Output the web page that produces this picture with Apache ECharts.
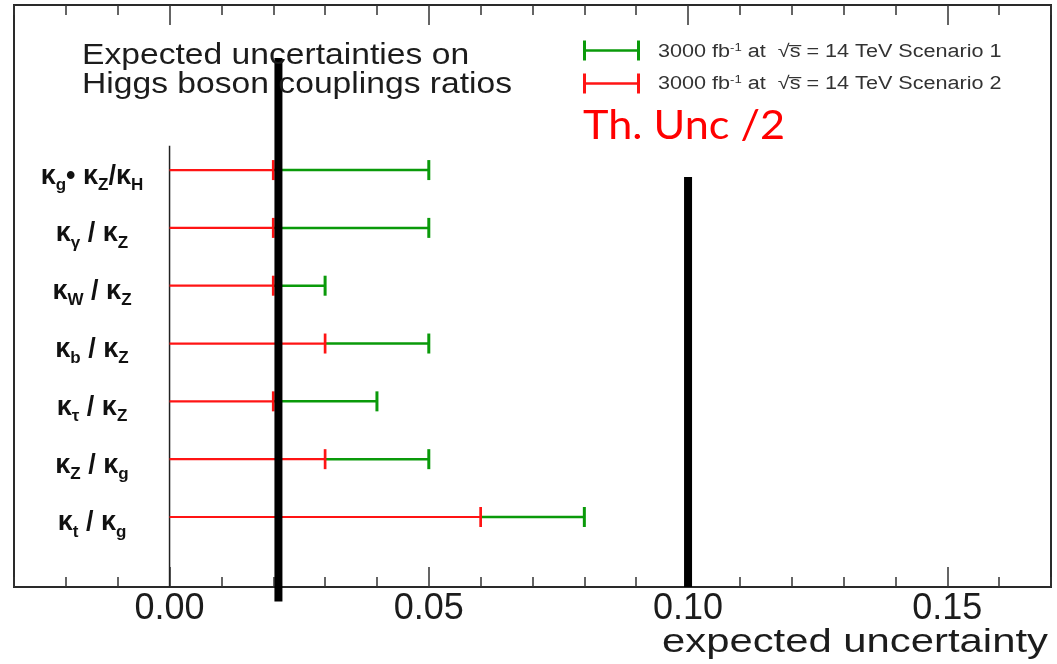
<!DOCTYPE html>
<html>
<head>
<meta charset="utf-8">
<script src="https://cdn.jsdelivr.net/npm/echarts@6/dist/echarts.min.js"></script>
<style>
  html, body { margin: 0; padding: 0; background: #ffffff; }
  #chart { width: 1057px; height: 664px; }
</style>
</head>
<body>
<div id="chart"></div>
<script>
// Coupling ratios, top to bottom (rich-text markup: k = kappa, s = subscript)
const couplings = [
  '{k|κ}{s|g}{k|• κ}{s|Z}{k|/κ}{s|H}',
  '{k|κ}{s|γ}{k| / κ}{s|Z}',
  '{k|κ}{s|W}{k| / κ}{s|Z}',
  '{k|κ}{s|b}{k| / κ}{s|Z}',
  '{k|κ}{s|τ}{k| / κ}{s|Z}',
  '{k|κ}{s|Z}{k| / κ}{s|g}',
  '{k|κ}{s|t}{k| / κ}{s|g}'
];

// Expected relative uncertainty, 3000 fb-1 at 14 TeV
const scenario1 = [0.05, 0.05, 0.03, 0.05, 0.04, 0.05, 0.08];
const scenario2 = [0.02, 0.02, 0.02, 0.03, 0.02, 0.03, 0.06];

// Axis ticks
const xMinorStep = 0.01;
const xMajorTicks = [0.00, 0.05, 0.10, 0.15];

// Theory-uncertainty (halved) reference levels
const thUncLevels = [0.021, 0.10];

const X_MIN = -0.03, X_MAX = 0.17;
const Y_MIN = -2.855, Y_MAX = 7.211;

const GREEN = '#0a9a0a';
const RED = '#ff1414';
const INK = '#1c1c1c';
const SANS = 'Liberation Sans, Arial, sans-serif';

const chart = echarts.init(document.getElementById('chart'), null, { renderer: 'canvas' });

// One horizontal error bar per row: from `start` to `end`, capped at `end`
function errorBars(name, starts, ends, color, width, z) {
  return {
    type: 'custom',
    name: name,
    encode: { x: [0, 1], y: 2 },
    data: ends.map((v, i) => [starts[i], v, i]),
    z: z,
    renderItem(params, api) {
      const row = api.value(2);
      const p0 = api.coord([api.value(0), row]);
      const p1 = api.coord([api.value(1), row]);
      return {
        type: 'group',
        children: [
          { type: 'line', shape: { x1: p0[0], y1: p0[1], x2: p1[0], y2: p1[1] },
            style: { stroke: color, lineWidth: width } },
          { type: 'line', shape: { x1: p1[0], y1: p1[1] - 10, x2: p1[0], y2: p1[1] + 10 },
            style: { stroke: color, lineWidth: width + 0.5 } }
        ]
      };
    }
  };
}

// Vertical extents (in row units) of the two reference bars
const thUncSpans = [[-1.94, 7.46], [0.12, Y_MAX]];

const axisBase = {
  type: 'value', min: X_MIN, max: X_MAX, gridIndex: 0,
  axisLine: { show: false, onZero: false }, splitLine: { show: false }
};
const tickStyle = { color: '#333', width: 1.5 };

const option = {
  animation: false,
  backgroundColor: '#ffffff',
  grid: {
    left: 14, right: 6, top: 5, bottom: 77,
    outerBoundsMode: 'none', containLabel: false,
    show: true, borderColor: '#2a2a2a', borderWidth: 2, backgroundColor: 'transparent'
  },
  xAxis: [
    Object.assign({}, axisBase, {
      position: 'bottom', interval: xMinorStep,
      axisTick: { inside: true, length: 10, lineStyle: tickStyle },
      axisLabel: { show: false }
    }),
    Object.assign({}, axisBase, {
      position: 'bottom',
      axisTick: { inside: true, length: 20, customValues: xMajorTicks, lineStyle: tickStyle },
      axisLabel: {
        customValues: xMajorTicks, formatter: v => v.toFixed(2),
        margin: 4, fontSize: 36, color: INK, fontFamily: SANS
      }
    }),
    Object.assign({}, axisBase, {
      position: 'top', interval: xMinorStep,
      axisTick: { inside: true, length: 10, lineStyle: tickStyle },
      axisLabel: { show: false }
    }),
    Object.assign({}, axisBase, {
      position: 'top',
      axisTick: { inside: true, length: 20, customValues: xMajorTicks, lineStyle: tickStyle },
      axisLabel: { show: false }
    })
  ],
  yAxis: {
    type: 'value', inverse: true, min: Y_MIN, max: Y_MAX,
    axisLine: { show: false, onZero: false }, axisTick: { show: false }, splitLine: { show: false },
    axisLabel: {
      customValues: couplings.map((c, i) => i),
      inside: true, margin: 78, align: 'center',
      formatter: v => couplings[Math.round(v)],
      rich: {
        k: { fontSize: 27, fontWeight: 'bold', color: '#111', fontFamily: SANS, padding: [12, 0, 0, 0] },
        s: { fontSize: 17, fontWeight: 'bold', color: '#111', fontFamily: SANS, padding: [30, 0, 0, 0] }
      }
    }
  },
  series: [
    // zero reference line
    {
      type: 'custom', encode: { x: 0, y: 1 }, data: [[0, -0.42]], z: 2,
      renderItem(params, api) {
        const a = api.coord([0, api.value(1)]);
        const b = api.coord([0, Y_MAX]);
        return { type: 'line', shape: { x1: a[0], y1: a[1], x2: b[0], y2: b[1] },
                 style: { stroke: '#222', lineWidth: 1.5 } };
      }
    },
    errorBars('scenario1', scenario2, scenario1, GREEN, 2.5, 3),
    errorBars('scenario2', scenario2.map(() => 0), scenario2, RED, 2.2, 4),
    // halved theory-uncertainty bars
    {
      type: 'custom', encode: { x: 0 }, clip: false, z: 6,
      data: thUncLevels.map((x, i) => [x, i]),
      renderItem(params, api) {
        const span = thUncSpans[api.value(1)];
        const a = api.coord([api.value(0), span[0]]);
        const b = api.coord([api.value(0), span[1]]);
        return { type: 'line', shape: { x1: a[0], y1: a[1], x2: b[0], y2: b[1] },
                 style: { stroke: '#000', lineWidth: 8 } };
      }
    }
  ],
  graphic: [
    { type: 'text', left: 82, top: 41, z: 10,
      style: { text: 'Expected uncertainties on', fontSize: 29, fill: INK, fontFamily: SANS }, scaleX: 1.16 },
    { type: 'text', left: 82, top: 70, z: 10,
      style: { text: 'Higgs boson couplings ratios', fontSize: 29, fill: INK, fontFamily: SANS }, scaleX: 1.16 },
    // x-axis title
    { type: 'text', left: 662, top: 626, z: 10,
      style: { text: 'expected uncertainty', fontSize: 34, fill: INK, fontFamily: SANS }, scaleX: 1.23 },
    // legend entries
    { type: 'group', left: 582, top: 38, z: 10, children: [
      { type: 'line', shape: { x1: 1, y1: 10, x2: 55, y2: 10 }, style: { stroke: GREEN, lineWidth: 2.5 } },
      { type: 'line', shape: { x1: 1, y1: 0, x2: 1, y2: 20 }, style: { stroke: GREEN, lineWidth: 3 } },
      { type: 'line', shape: { x1: 55, y1: 0, x2: 55, y2: 20 }, style: { stroke: GREEN, lineWidth: 3 } }
    ]},
    { type: 'group', left: 582, top: 71, z: 10, children: [
      { type: 'line', shape: { x1: 1, y1: 10, x2: 55, y2: 10 }, style: { stroke: RED, lineWidth: 2.5 } },
      { type: 'line', shape: { x1: 1, y1: 0, x2: 1, y2: 20 }, style: { stroke: RED, lineWidth: 3 } },
      { type: 'line', shape: { x1: 55, y1: 0, x2: 55, y2: 20 }, style: { stroke: RED, lineWidth: 3 } }
    ]},
    { type: 'text', left: 658, top: 42, z: 10,
      style: { text: '3000 fb{sup|-1} at  √s̅ = 14 TeV Scenario 1', fontSize: 18, fill: '#333', fontFamily: SANS,
               rich: { sup: { fontSize: 11, fill: '#333', padding: [0, 0, 9, 0] } } }, scaleX: 1.2 },
    { type: 'text', left: 658, top: 74, z: 10,
      style: { text: '3000 fb{sup|-1} at  √s̅ = 14 TeV Scenario 2', fontSize: 18, fill: '#333', fontFamily: SANS,
               rich: { sup: { fontSize: 11, fill: '#333', padding: [0, 0, 9, 0] } } }, scaleX: 1.2 },
    { type: 'text', left: 583, top: 106, z: 10,
      style: { text: 'Th. Unc /2', fontSize: 40, fill: '#ff0000', fontFamily: 'Lato, Open Sans, sans-serif' }, scaleX: 1.08 }
  ]
};

chart.setOption(option);
</script>
</body>
</html>
